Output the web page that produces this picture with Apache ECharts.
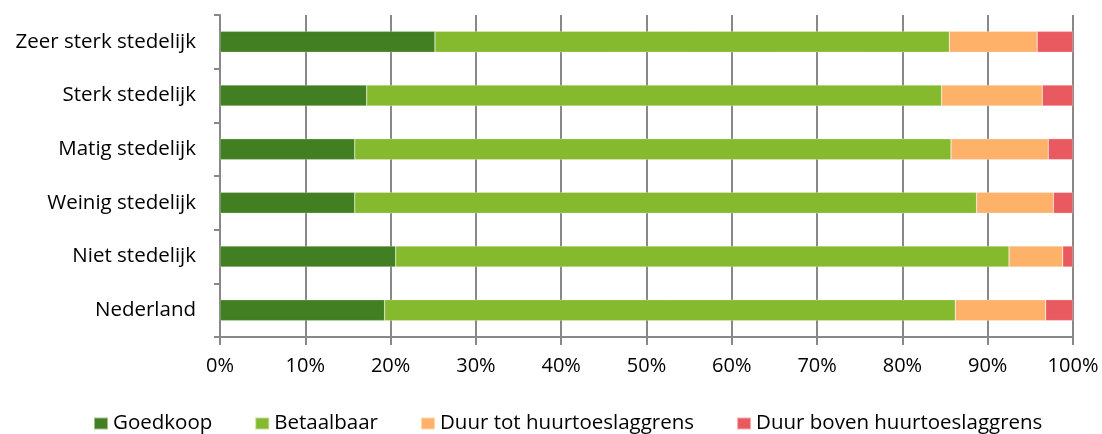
<!DOCTYPE html>
<html>
<head>
<meta charset="utf-8">
<script src="https://cdn.jsdelivr.net/npm/echarts@6/dist/echarts.min.js"></script>
<style>html,body{margin:0;padding:0;background:#fff}#c{width:1102px;height:434px}</style>
</head>
<body>
<div id="c"></div>
<script>
const categories = ['Zeer sterk stedelijk','Sterk stedelijk','Matig stedelijk','Weinig stedelijk','Niet stedelijk','Nederland'];
const goedkoop   = [25.2, 17.2, 15.8, 15.8, 20.6, 19.3];
const betaalbaar = [60.3, 67.4, 69.9, 72.9, 71.9, 66.9];
const duurTot    = [10.3, 11.8, 11.4,  9.0,  6.3, 10.6];
const duurBoven  = [ 4.2,  3.6,  2.9,  2.3,  1.2,  3.2];
const seriesNames = ['Goedkoop','Betaalbaar','Duur tot huurtoeslaggrens','Duur boven huurtoeslaggrens'];
const colors = ['#417F22','#85B92E','#FDB169','#E85A5F'];
const seriesData = [goedkoop, betaalbaar, duurTot, duurBoven];

const font = 'Open Sans, sans-serif';
const chart = echarts.init(document.getElementById('c'), null, {renderer:'canvas'});
chart.setOption({
  animation: false,
  color: colors,
  grid: {left: 220, right: 29, top: 15, bottom: 97},
  legend: {
    top: 408, left: 88,
    itemWidth: 14, itemHeight: 12, itemGap: 42,
    icon: 'rect',
    textStyle: {fontFamily: font, fontSize: 20.5, color: '#000', padding: [0, 0, 0, 0]},
    data: seriesNames
  },
  xAxis: {
    type: 'value', min: 0, max: 100, interval: 10,
    axisLabel: {formatter: '{value}%', fontFamily: font, fontSize: 20, color: '#000', margin: 19},
    axisLine: {show: true, lineStyle: {color: '#888888', width: 2}},
    axisTick: {show: true, length: 8, lineStyle: {color: '#888888', width: 2}},
    splitLine: {show: true, lineStyle: {color: '#888888', width: 2}}
  },
  yAxis: {
    type: 'category', data: categories, inverse: true,
    axisLabel: {fontFamily: font, fontSize: 20.5, color: '#000', margin: 24},
    axisLine: {show: true, lineStyle: {color: '#888888', width: 2}},
    axisTick: {show: true, length: 6, alignWithLabel: false, lineStyle: {color: '#888888', width: 2}}
  },
  series: seriesNames.map((n, i) => ({
    name: n, type: 'bar', stack: 'total', data: seriesData[i],
    barWidth: 21,
    itemStyle: {color: colors[i], borderColor: 'rgba(255,255,255,0.5)', borderWidth: 0.5}
  }))
});
</script>
</body>
</html>
